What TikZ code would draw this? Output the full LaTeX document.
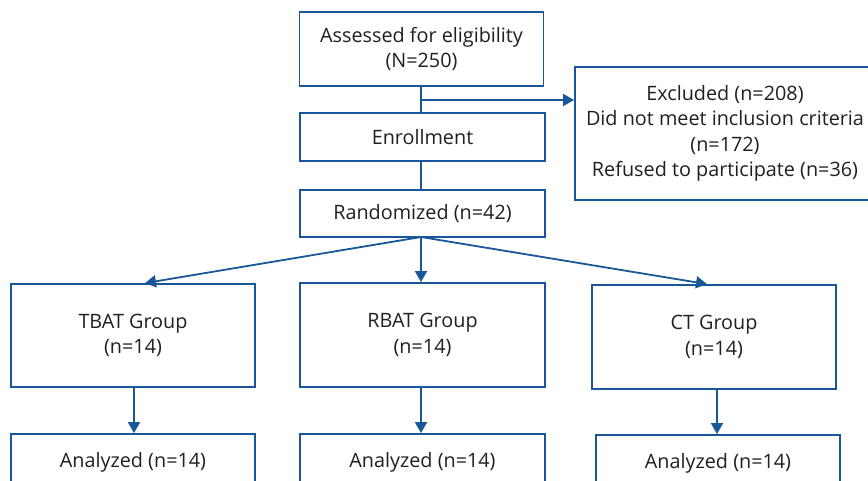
\documentclass[tikz,border=0pt]{standalone}
\usepackage{fontspec}
\setmainfont{Open Sans}
\usetikzlibrary{arrows.meta}
\definecolor{flowblue}{RGB}{24,88,152}
\definecolor{flowtext}{RGB}{35,31,32}
\begin{document}
\begin{tikzpicture}[x=1pt,y=-1pt,font=\fontsize{19.8}{25.5}\selectfont,
		box/.style={rectangle,draw=flowblue,line width=1.8pt,text=flowtext,align=center,inner sep=0pt},
		link/.style={flowblue,line width=1.8pt},
		arr/.style={link,-{Triangle[width=12pt,length=11pt]}}]
	\path[use as bounding box,clip] (0,0) rectangle (868,480);
	\fill[white] (0,0) rectangle (868,480);

	% screening
	\node[box,minimum width=244,minimum height=74] (assess) at (421.5,49) {Assessed for eligibility\\(N=250)};
	\node[box,minimum width=245,minimum height=48] (enroll) at (422.5,137) {Enrollment};
	\node[box,minimum width=245,minimum height=47] (random) at (422.5,213.5) {Randomized (n=42)};
	\node[box,minimum width=300,minimum height=133] (excl) at (725,133.5) {Excluded (n=208)\\Did not meet inclusion criteria\\(n=172)\\Refused to participate (n=36)};

	% groups
	\node[box,minimum width=244,minimum height=103] (tbat) at (133,335.5) {TBAT Group\\(n=14)};
	\node[box,minimum width=245,minimum height=104] (rbat) at (422.5,335) {RBAT Group\\(n=14)};
	\node[box,minimum width=244,minimum height=104] (ct) at (714,337) {CT Group\\(n=14)};

	% analysis
	\node[box,minimum width=244,minimum height=56] (antbat) at (133,462) {Analyzed (n=14)};
	\node[box,minimum width=245,minimum height=56] (anrbat) at (422.5,462) {Analyzed (n=14)};
	\node[box,minimum width=244,minimum height=56] (anct) at (718,463) {Analyzed (n=14)};

	% flow through screening
	\coordinate (split) at (421,100);
	\draw[link] (assess.south -| split) -- (enroll.north -| split);
	\draw[link] (enroll.south -| split) -- (random.north -| split);
	\draw[arr] (split) -- (split -| excl.west);

	% randomization
	\coordinate (fork) at (421,237);
	\draw[arr] (fork) -- (tbat.north -| 145,0);
	\draw[arr] (fork) -- (rbat.north -| fork);
	\draw[arr] (fork) -- (ct.north -| 707,0);

	% to analysis
	\draw[arr] (tbat.south -| 134,0) -- (antbat.north -| 134,0);
	\draw[arr] (rbat.south -| fork) -- (anrbat.north -| fork);
	\draw[arr] (ct.south -| 717,0) -- (anct.north -| 717,0);
\end{tikzpicture}
\end{document}
